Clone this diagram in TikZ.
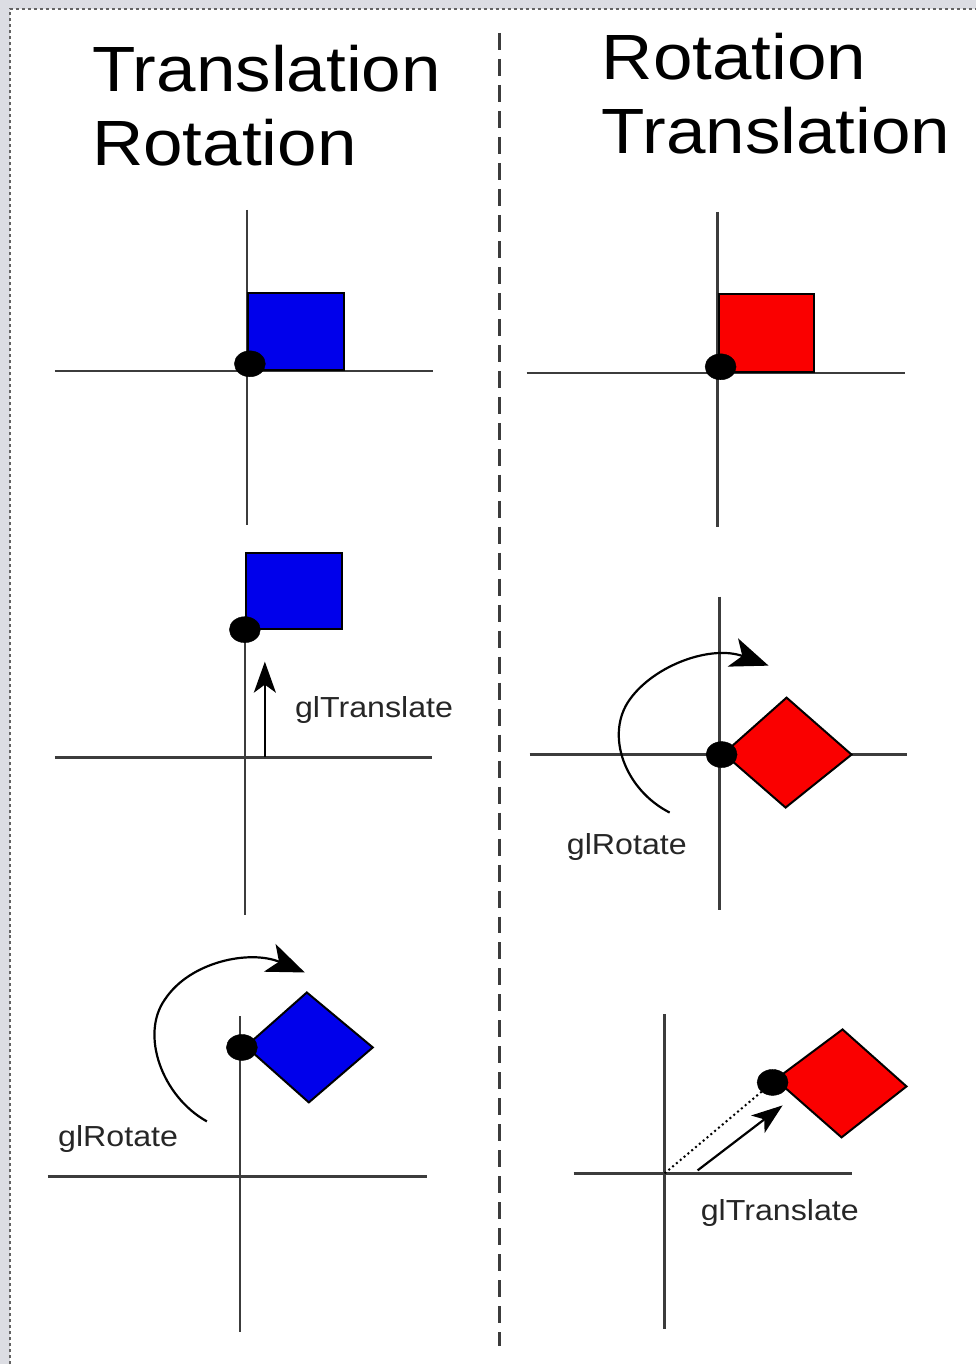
\documentclass[tikz,border=0pt]{standalone}
\usepackage{fontspec}
\setmainfont{Liberation Sans}
\usetikzlibrary{shapes.geometric,arrows.meta}

\definecolor{pagegray}{RGB}{220,221,227}
\definecolor{axisgray}{RGB}{60,60,60}
\definecolor{shapeblue}{RGB}{0,0,235}
\definecolor{shapered}{RGB}{250,0,0}

\tikzset{
  axis/.style={draw=axisgray, line width=2.4pt},
  dot/.style={ellipse, fill=black, draw=black, inner sep=0pt,
              minimum width=31pt, minimum height=26pt},
  face/.style={draw=black, line width=2pt},
  title/.style={font=\fontsize{64}{70}\selectfont, anchor=base west,
                inner sep=0pt, xscale=1.11, transform shape},
  lbl/.style={font=\fontsize{29}{32}\selectfont, text=black!85, inner sep=0pt,
              xscale=1.11, transform shape},
  spin/.style={line width=2.2pt, -{Stealth[length=38pt, width=30pt, inset=10pt]}},
  moveline/.style={line width=2.2pt, -{Stealth[length=31pt, width=22pt, inset=8pt]}},
}

\begin{document}
\begin{tikzpicture}[x=1pt, y=-1pt]
  % page frame
  \fill[pagegray] (0,0) rectangle (977,1365);
  \fill[white] (10,9) rectangle (977,1365);
  \draw[axisgray!80, line width=1.5pt, dash pattern=on 3pt off 3pt] (10,1365) -- (10,9) -- (977,9);
  \useasboundingbox (0,0) rectangle (977,1365);

  % column divider
  \draw[axisgray, line width=3pt, dash pattern=on 17pt off 9pt] (500,33) -- (500,1347);

  % headings
  \node[title] (tl1) at (92,92) {Translation};
  \node[title] (tl2) at (92,166) {Rotation};
  \node[title] (tr1) at (602,80) {Rotation};
  \node[title] (tr2) at (602,154) {Translation};

  % ---- left column, step 1: initial frame
  \coordinate (a1t) at (247,210); \coordinate (a1b) at (247,525);
  \coordinate (a1l) at (55,371);  \coordinate (a1r) at (433,371);
  \draw[axis] (a1t) -- (a1b); \draw[axis] (a1l) -- (a1r);
  \fill[shapeblue] (248,293) rectangle (344,370);
  \draw[face] (248,293) rectangle (344,370);
  \node[dot] (d1) at (250,364) {};

  % ---- right column, step 1: initial frame
  \coordinate (b1t) at (718,212); \coordinate (b1b) at (718,527);
  \coordinate (b1l) at (527,373); \coordinate (b1r) at (905,373);
  \draw[axis] (b1t) -- (b1b); \draw[axis] (b1l) -- (b1r);
  \fill[shapered] (719,294) rectangle (814,372);
  \draw[face] (719,294) rectangle (814,372);
  \node[dot] (e1) at (721,367) {};

  % ---- left column, step 2: translate
  \coordinate (a2t) at (245,630); \coordinate (a2b) at (245,915);
  \coordinate (a2l) at (55,758);  \coordinate (a2r) at (432,758);
  \draw[axis] (a2t) -- (a2b); \draw[axis] (a2l) -- (a2r);
  \fill[shapeblue] (246,553) rectangle (342,629);
  \draw[face] (246,553) rectangle (342,629);
  \node[dot] (d2) at (245,630) {};
  \coordinate (m2s) at (265,757); \coordinate (m2e) at (265,662);
  \draw[moveline] (m2s) -- (m2e);
  \node[lbl, anchor=west] (t2) at (295,710) {glTranslate};

  % ---- right column, step 2: rotate
  \coordinate (b2t) at (720,597); \coordinate (b2b) at (720,910);
  \coordinate (b2l) at (530,755); \coordinate (b2r) at (907,755);
  \draw[axis] (b2t) -- (b2b); \draw[axis] (b2l) -- (b2r);
  \fill[shapered] (724,754) -- (787,698) -- (852,755) -- (786,808) -- cycle;
  \draw[face, line join=miter] (724,754) -- (787,698) -- (852,755) -- (786,808) -- cycle;
  \node[dot] (e2) at (722,755) {};
  \coordinate (r2s) at (670,813); \coordinate (r2e) at (769,666);
  \draw[spin] (r2s) .. controls (625,790) and (605,735) .. (630,700)
                    .. controls (655,665) and (712,645) .. (r2e);
  \node[lbl, anchor=west] (u2) at (567,847) {glRotate};

  % ---- left column, step 3: rotate
  \coordinate (a3t) at (240,1017); \coordinate (a3b) at (240,1333);
  \coordinate (a3l) at (48,1177);  \coordinate (a3r) at (427,1177);
  \draw[axis] (a3t) -- (a3b); \draw[axis] (a3l) -- (a3r);
  \fill[shapeblue] (246,1047) -- (307,993) -- (373,1048) -- (309,1103) -- cycle;
  \draw[face, line join=miter] (246,1047) -- (307,993) -- (373,1048) -- (309,1103) -- cycle;
  \node[dot] (d3) at (242,1048) {};
  \coordinate (r3s) at (207,1122); \coordinate (r3e) at (305,973);
  \draw[spin] (r3s) .. controls (162,1097) and (140,1035) .. (165,1000)
                    .. controls (190,962) and (250,950) .. (r3e);
  \node[lbl, anchor=west] (t3) at (58,1140) {glRotate};

  % ---- right column, step 3: translate
  \coordinate (b3t) at (665,1015); \coordinate (b3b) at (665,1330);
  \coordinate (b3l) at (574,1174); \coordinate (b3r) at (852,1174);
  \draw[axis] (b3t) -- (b3b); \draw[axis] (b3l) -- (b3r);
  \coordinate (o3) at (665,1174);
  \fill[shapered] (776,1080) -- (843,1030) -- (907,1087) -- (842,1138) -- cycle;
  \draw[face, line join=miter] (776,1080) -- (843,1030) -- (907,1087) -- (842,1138) -- cycle;
  \node[dot] (e3) at (773,1083) {};
  \draw[black, line width=2pt, dash pattern=on 2pt off 3pt] (o3) -- (e3);
  \coordinate (m3s) at (698,1171); \coordinate (m3e) at (783,1106);
  \draw[moveline] (m3s) -- (m3e);
  \node[lbl, anchor=west] (u3) at (701,1214) {glTranslate};
\end{tikzpicture}
\end{document}
